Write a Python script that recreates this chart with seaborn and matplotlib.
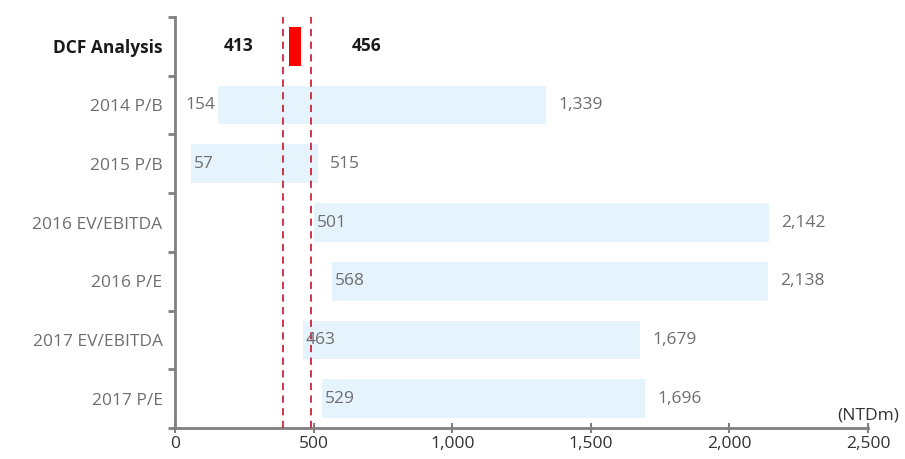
import numpy as np
import pandas as pd
import matplotlib
matplotlib.use("Agg")
import matplotlib.pyplot as plt
from matplotlib.ticker import FuncFormatter, FixedLocator
import seaborn as sns

# Data (NTDm)
metode = ["DCF Analysis", "2014 P/B", "2015 P/B", "2016 EV/EBITDA",
          "2016 P/E", "2017 EV/EBITDA", "2017 P/E"]
nilai_rendah = [413, 154, 57, 501, 568, 463, 529]
nilai_tinggi = [456, 1339, 515, 2142, 2138, 1679, 1696]
garis_dcf = [388, 489]

df = pd.DataFrame({"Metode": metode, "Rendah": nilai_rendah, "Tinggi": nilai_tinggi})
df["Rentang"] = df["Tinggi"] - df["Rendah"]

sns.set_theme(style="white")
plt.rcParams["font.family"] = ["Open Sans", "DejaVu Sans"]

abu = "#808080"
teks_abu = "#6e6e6e"
fs = 12.5

fig = plt.figure(figsize=(9.05, 4.59), dpi=100)
ax = fig.add_axes([0.1934, 0.0675, 0.7656, 0.8955])

sns.barplot(data=df, x="Rentang", y="Metode", orient="h", color="#E4F3FC",
            saturation=1, width=0.66, errorbar=None, left=df["Rendah"].tolist(),
            linewidth=0, ax=ax)
ax.patches[0].set_facecolor("#FF0000")

for xv in garis_dcf:
    ax.axvline(xv, color="#D0243C", linestyle=(0, (4, 3)), linewidth=1.3, zorder=5)

# Label nilai
for i, row in df.iterrows():
    if i == 0:
        ax.annotate(f"{row['Rendah']:,}", (row["Rendah"], i), xytext=(-26, 0),
                    textcoords="offset points", ha="right", va="center",
                    fontsize=fs, fontweight="bold", color="#1a1a1a")
        ax.annotate(f"{row['Tinggi']:,}", (row["Tinggi"], i), xytext=(36, 0),
                    textcoords="offset points", ha="left", va="center",
                    fontsize=fs, fontweight="bold", color="#1a1a1a")
        continue
    if 100 <= row["Rendah"] < 400:
        ax.annotate(f"{row['Rendah']:,}", (row["Rendah"], i), xytext=(-2, 0),
                    textcoords="offset points", ha="right", va="center",
                    fontsize=fs, color=teks_abu, zorder=6)
    else:
        ax.annotate(f"{row['Rendah']:,}", (row["Rendah"], i), xytext=(2, 0),
                    textcoords="offset points", ha="left", va="center",
                    fontsize=fs, color=teks_abu, zorder=6)
    ax.annotate(f"{row['Tinggi']:,}", (row["Tinggi"], i), xytext=(9, 0),
                textcoords="offset points", ha="left", va="center",
                fontsize=fs, color=teks_abu, zorder=6)

ax.set_xlim(0, 2500)
ax.set_ylim(6.5, -0.5)
ax.set_xticks(np.arange(0, 2501, 500))
ax.xaxis.set_major_formatter(FuncFormatter(lambda v, p: f"{int(v):,}"))
ax.set_xlabel("")
ax.set_ylabel("")

ax.set_yticks(range(len(metode)))
ax.set_yticklabels(metode)
ax.yaxis.set_minor_locator(FixedLocator(np.arange(-0.5, len(metode), 1.0)))
ax.tick_params(axis="y", which="major", left=False, length=0, pad=9,
               labelsize=fs, labelcolor=teks_abu)
ax.tick_params(axis="y", which="minor", left=True, length=5, width=2,
               color=abu, direction="out")
ax.tick_params(axis="x", which="major", bottom=True, length=7, width=1.5,
               color=abu, direction="inout", labelsize=fs,
               labelcolor="#333333", pad=2)
lbl0 = ax.get_yticklabels()[0]
lbl0.set_fontweight("bold")
lbl0.set_color("#1a1a1a")

for s in ["top", "right"]:
    ax.spines[s].set_visible(False)
for s in ["left", "bottom"]:
    ax.spines[s].set_color(abu)
    ax.spines[s].set_linewidth(2)

ax.text(1.0, 0.01, "(NTDm)", transform=ax.transAxes, ha="center", va="bottom",
        fontsize=fs, color="#333333")

fig.savefig("out.png", dpi=100)
